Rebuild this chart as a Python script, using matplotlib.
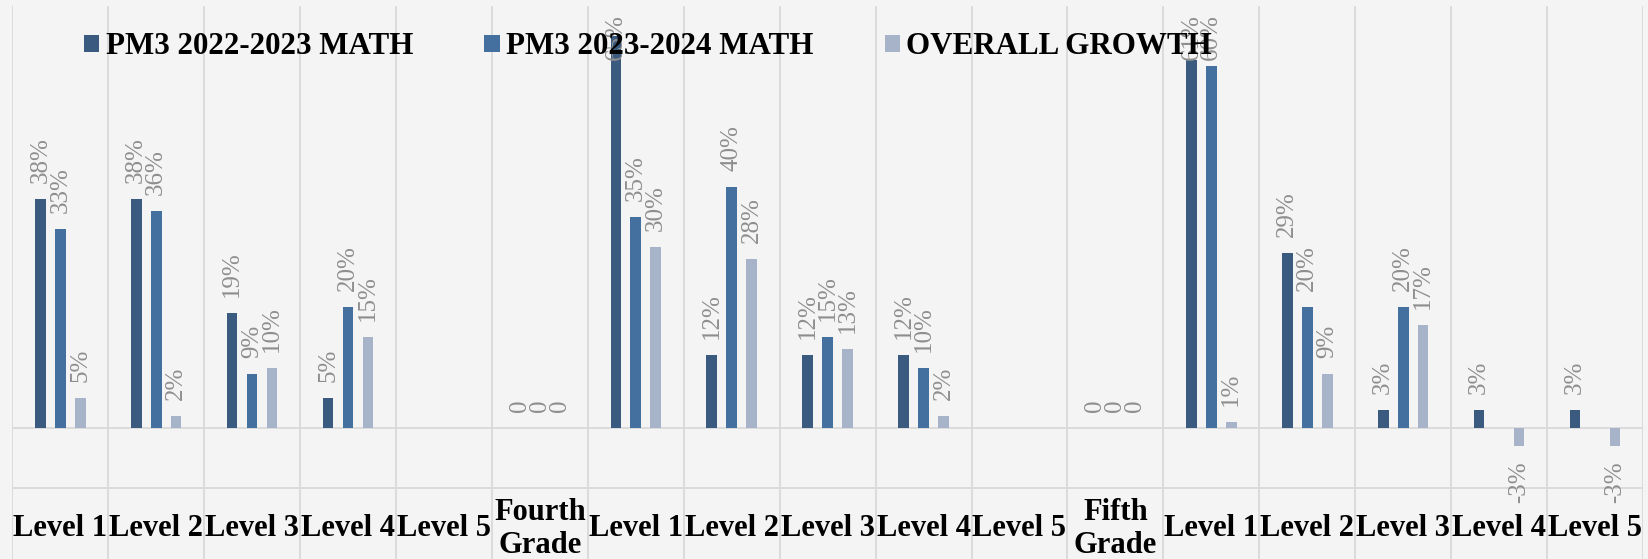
import numpy as np
import matplotlib.pyplot as plt
from matplotlib.patches import Patch

categories = ['Level 1', 'Level 2', 'Level 3', 'Level 4', 'Level 5', 'Fourth\nGrade',
              'Level 1', 'Level 2', 'Level 3', 'Level 4', 'Level 5', 'Fifth\nGrade',
              'Level 1', 'Level 2', 'Level 3', 'Level 4', 'Level 5']
series_names = ['PM3 2022-2023 MATH', 'PM3 2023-2024 MATH', 'OVERALL GROWTH']
pm3_2223 = [38, 38, 19, 5, None, 0, 65, 12, 12, 12, None, 0, 61, 29, 3, 3, 3]
pm3_2324 = [33, 36, 9, 20, None, 0, 35, 40, 15, 10, None, 0, 60, 20, 20, None, None]
growth = [5, 2, 10, 15, None, 0, 30, 28, 13, 2, None, 0, 1, 9, 17, -3, -3]
colors = ['#3a5a80', '#44709f', '#a6b3c8']

W, H = 1649, 559
fig = plt.figure(figsize=(W / 100, H / 100), dpi=100)
fig.patch.set_facecolor('#f4f4f4')
ax = fig.add_axes([12.3 / W, 0, (1643 - 12.3) / W, 1 - 6 / H])
ax.set_facecolor('#f4f4f4')

# y scale: 70% at top, -10% at y=488px
px_per = (488 - 6) / 80
zero_px = 6 + 70 * px_per
ymin = 70 - (H - 6) / px_per
ax.set_xlim(-0.5, len(categories) - 0.5)
ax.set_ylim(ymin, 70)
for s in ax.spines.values():
    s.set_visible(False)
ax.set_xticks([])
ax.set_yticks([])

grid_c = '#d9d9d9'
for b in np.arange(len(categories) + 1) - 0.5:
    ax.axvline(b, color=grid_c, lw=1.3, zorder=0)
ax.axhline(0, color=grid_c, lw=1.3, zorder=0)
ax.axhline(-10, color=grid_c, lw=1.3, zorder=0)

# labels that would run past the top are pushed back inside (like Excel does)
top_limit = 70 - (14 - 6) / px_per
x = np.arange(len(categories))
for k, vals in enumerate([pm3_2223, pm3_2324, growth]):
    for i, v in enumerate(vals):
        if v is None:
            continue
        xi = x[i] + (k - 1) * 0.208
        ax.bar(xi, v, width=0.111, color=colors[k], zorder=2)
        lab = '0' if v == 0 else f'{v}%'
        kw = dict(rotation=90, ha='center', fontsize=18, family='Liberation Serif',
                  color='#8e8e8e', zorder=3)
        if v >= 0 and zero_px - v * px_per - 16 - 47 < 14:
            ax.text(xi, top_limit, lab, va='top', **kw)
        elif v >= 0:
            ax.annotate(lab, (xi, v), xytext=(0, 16), textcoords='offset pixels',
                        va='bottom', **kw)
        else:
            ax.annotate(lab, (xi, v), xytext=(0, -16), textcoords='offset pixels',
                        va='top', **kw)

label_y = (zero_px - 529) / px_per
for i, c in enumerate(categories):
    ax.text(x[i], label_y, c, ha='center', va='center', fontsize=22,
            family='Liberation Serif', fontweight='bold', color='black',
            linespacing=1.22, multialignment='center')

handles = [Patch(facecolor=c) for c in colors]
leg = fig.legend(handles, series_names, loc='center left',
                 bbox_to_anchor=(84 / W, 1 - 47 / H), ncol=3, frameon=False,
                 prop={'family': 'Liberation Serif', 'weight': 'bold', 'size': 22.3},
                 handlelength=0.5, handleheight=0.5, handletextpad=0.2,
                 columnspacing=2.3, borderpad=0, borderaxespad=0)
leg.set_zorder(5)

fig.savefig('out.png', dpi=100, facecolor=fig.get_facecolor())
